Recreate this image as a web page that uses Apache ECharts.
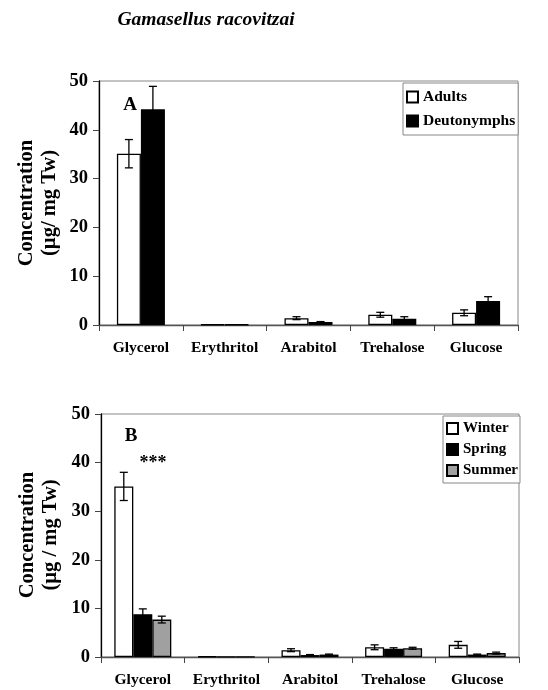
<!DOCTYPE html>
<html>
<head>
<meta charset="utf-8">
<script src="https://cdn.jsdelivr.net/npm/echarts@6/dist/echarts.min.js"></script>
<style>
html,body{margin:0;padding:0;background:#fff;}
#c{width:548px;height:690px;}
</style>
</head>
<body>
<div id="c"></div>
<script>
// ---- data ----
const categories = ['Glycerol', 'Erythritol', 'Arabitol', 'Trehalose', 'Glucose'];
const yTicks = [0, 10, 20, 30, 40, 50];

// Panel A: life stages
const adults      = [35.1, 0.1, 1.4, 2.1, 2.5];
const adultsErr   = [2.9, 0, 0.3, 0.5, 0.6];
const deuto       = [44.2, 0.1, 0.6, 1.3, 4.9];
const deutoErr    = [4.7, 0, 0.1, 0.4, 0.9];

// Panel B: seasons
const winter      = [35.1, 0.1, 1.4, 2.0, 2.5];
const winterErr   = [2.9, 0, 0.3, 0.5, 0.7];
const spring      = [8.8, 0.05, 0.4, 1.7, 0.5];
const springErr   = [1.1, 0, 0.1, 0.2, 0.1];
const summer      = [7.7, 0.05, 0.5, 1.8, 0.8];
const summerErr   = [0.7, 0, 0.1, 0.2, 0.2];

// ---- styling ----
const FONT = '"Liberation Serif", "Times New Roman", serif';

function errSeries(axisIdx, mean, err, offset, color) {
  return {
    type: 'custom',
    xAxisIndex: axisIdx, yAxisIndex: axisIdx,
    z: 10, silent: true,
    renderItem: function (params, api) {
      const c = api.value(0);
      const lo = api.value(1), hi = api.value(2);
      if (hi - lo <= 0) return null;
      const p1 = api.coord([c, lo]);
      const p2 = api.coord([c, hi]);
      const x = p1[0] + offset;
      const cap = 4;
      const st = { stroke: color, lineWidth: 1.3 };
      return {
        type: 'group',
        children: [
          { type: 'line', shape: { x1: x, y1: p1[1], x2: x, y2: p2[1] }, style: st },
          { type: 'line', shape: { x1: x - cap, y1: p1[1], x2: x + cap, y2: p1[1] }, style: st },
          { type: 'line', shape: { x1: x - cap, y1: p2[1], x2: x + cap, y2: p2[1] }, style: st }
        ]
      };
    },
    data: categories.map((_, i) => [i, mean[i] - err[i], mean[i] + err[i]])
  };
}

function barSeries(axisIdx, name, data, color, width) {
  return {
    type: 'bar', name: name, data: data,
    xAxisIndex: axisIdx, yAxisIndex: axisIdx,
    barWidth: width, barGap: '0%',
    itemStyle: { color: color, borderColor: '#000', borderWidth: 1.3 }
  };
}

function xAxisCfg(gi) {
  return {
    type: 'category', gridIndex: gi, data: categories,
    axisLine: { lineStyle: { color: '#555', width: 1.3 } },
    axisTick: { show: true, length: 6, lineStyle: { color: '#444' } },
    axisLabel: { interval: 0, color: '#000', fontFamily: FONT, fontWeight: 'bold', fontSize: 15.5, margin: 15 }
  };
}
function yAxisCfg(gi) {
  return {
    type: 'value', gridIndex: gi, min: 0, max: 50, interval: 10,
    axisLine: { show: true, lineStyle: { color: '#000', width: 1.3 } },
    axisTick: { show: true, length: 6, lineStyle: { color: '#444' } },
    splitLine: { show: false },
    axisLabel: { color: '#000', fontFamily: FONT, fontWeight: 'bold', fontSize: 18.5, margin: 11 }
  };
}

const legendTextA = { color: '#000', fontFamily: FONT, fontWeight: 'bold', fontSize: 15.5 };
const legendTextB = { color: '#000', fontFamily: FONT, fontWeight: 'bold', fontSize: 15 };

function txt(x, y, text, size, extra) {
  return Object.assign({
    type: 'text', x: x, y: y,
    style: { text: text, fill: '#000', font: 'bold ' + size + 'px ' + FONT, align: 'center', verticalAlign: 'middle' }
  }, extra || {});
}

const chart = echarts.init(document.getElementById('c'), null, { renderer: 'canvas' });
chart.setOption({
  backgroundColor: '#fff',
  animation: false,
  grid: [
    { left: 99, top: 81, width: 419, height: 244, show: true, borderColor: '#888', borderWidth: 1 },
    { left: 101, top: 414, width: 418, height: 243, show: true, borderColor: '#888', borderWidth: 1 }
  ],
  xAxis: [xAxisCfg(0), xAxisCfg(1)],
  yAxis: [yAxisCfg(0), yAxisCfg(1)],
  legend: [
    {
      data: ['Adults', 'Deutonymphs'], orient: 'vertical',
      left: 403, top: 83, itemWidth: 11, itemHeight: 11, itemGap: 8,
      icon: 'rect', padding: [6, 3, 6, 3],
      backgroundColor: '#fff', borderColor: '#888', borderWidth: 1, borderRadius: 0,
      textStyle: legendTextA, selectedMode: false
    },
    {
      data: ['Winter', 'Spring', 'Summer'], orient: 'vertical',
      left: 443, top: 416, itemWidth: 11, itemHeight: 11, itemGap: 6,
      icon: 'rect', padding: [5, 2, 5, 3],
      backgroundColor: '#fff', borderColor: '#888', borderWidth: 1, borderRadius: 0,
      textStyle: legendTextB, selectedMode: false
    }
  ],
  series: [
    barSeries(0, 'Adults', adults, '#fff', 24),
    barSeries(0, 'Deutonymphs', deuto, '#000', 24),
    errSeries(0, adults, adultsErr, -12, '#000'),
    errSeries(0, deuto, deutoErr, 12, '#000'),
    barSeries(1, 'Winter', winter, '#fff', 19),
    barSeries(1, 'Spring', spring, '#000', 19),
    barSeries(1, 'Summer', summer, '#a0a0a0', 19),
    errSeries(1, winter, winterErr, -19, '#000'),
    errSeries(1, spring, springErr, 0, '#000'),
    errSeries(1, summer, summerErr, 19, '#000')
  ],
  graphic: [
    { type: 'text', x: 206, y: 20, style: { text: 'Gamasellus racovitzai', fill: '#000', font: 'italic bold 19.5px ' + FONT, align: 'center', verticalAlign: 'middle' } },
    txt(27, 203, 'Concentration', 20.5, { rotation: Math.PI / 2 }),
    txt(50, 203, '(\u00b5g/ mg Tw)', 20.5, { rotation: Math.PI / 2 }),
    txt(28, 535, 'Concentration', 20.5, { rotation: Math.PI / 2 }),
    txt(51, 535, '(\u00b5g / mg Tw)', 20.5, { rotation: Math.PI / 2 }),
    txt(130, 105, 'A', 19),
    txt(131, 436, 'B', 19),
    txt(153, 463, '***', 18)
  ]
});
</script>
</body>
</html>
